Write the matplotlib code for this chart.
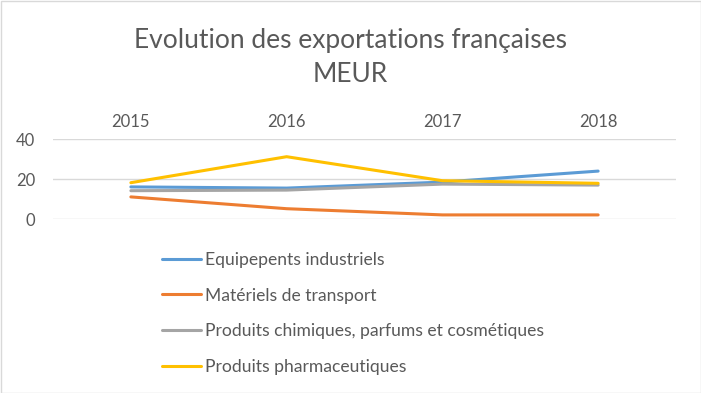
import matplotlib.pyplot as plt

years = ['2015', '2016', '2017', '2018']
equipements = [16.2, 15.6, 18.6, 24.1]
transport = [11.2, 5.3, 2.2, 2.2]
chimiques = [14.3, 14.6, 17.6, 17.1]
pharma = [18.3, 31.3, 19.3, 18.0]

labels = ['Equipepents industriels', 'Matériels de transport',
          'Produits chimiques, parfums et cosmétiques', 'Produits pharmaceutiques']
colors = ['#5b9bd5', '#ed7d31', '#a5a5a5', '#ffc000']

plt.rcParams['font.family'] = ['Lato', 'DejaVu Sans']
txt = '#595959'

W, H = 701, 393
fig = plt.figure(figsize=(W / 100, H / 100), dpi=100)
ax = fig.add_axes([53 / W, (H - 219.3) / H, 623 / W, 80 / H])

x = range(len(years))
for vals, lab, c in zip([equipements, transport, chimiques, pharma], labels, colors):
    ax.plot(x, vals, color=c, lw=2.2, label=lab, solid_capstyle='round')

ax.set_xlim(-0.5, 3.5)
ax.set_ylim(0, 40)
ax.set_yticks([0, 20, 40])
ax.set_xticks(list(x))
ax.set_xticklabels(years)
ax.xaxis.tick_top()
ax.tick_params(axis='x', length=0, pad=7, labelsize=12, labelcolor=txt)
ax.tick_params(axis='y', length=0, pad=13, labelsize=12, labelcolor=txt)
ax.grid(axis='y', color='#d9d9d9', lw=1)
ax.set_axisbelow(True)
for s in ax.spines.values():
    s.set_visible(False)

fig.text(0.5, 1 - 48 / H, 'Evolution des exportations françaises', ha='center', va='baseline',
         fontsize=19, color=txt)
fig.text(0.5, 1 - 82 / H, 'MEUR', ha='center', va='baseline', fontsize=19, color=txt)

ax.legend(loc='upper left', bbox_to_anchor=(162 / W, 1 - 252 / H), bbox_transform=fig.transFigure,
          frameon=False, fontsize=12.6, labelcolor=txt, handlelength=2.2, handletextpad=0.25,
          labelspacing=1.12, borderpad=0, borderaxespad=0)

fig.patches.append(plt.Rectangle((0.5 / W, 0.5 / H), 1 - 1 / W, 1 - 1 / H, transform=fig.transFigure,
                                 fill=False, edgecolor='#d9d9d9', lw=1))

fig.savefig('out.png', dpi=100)
